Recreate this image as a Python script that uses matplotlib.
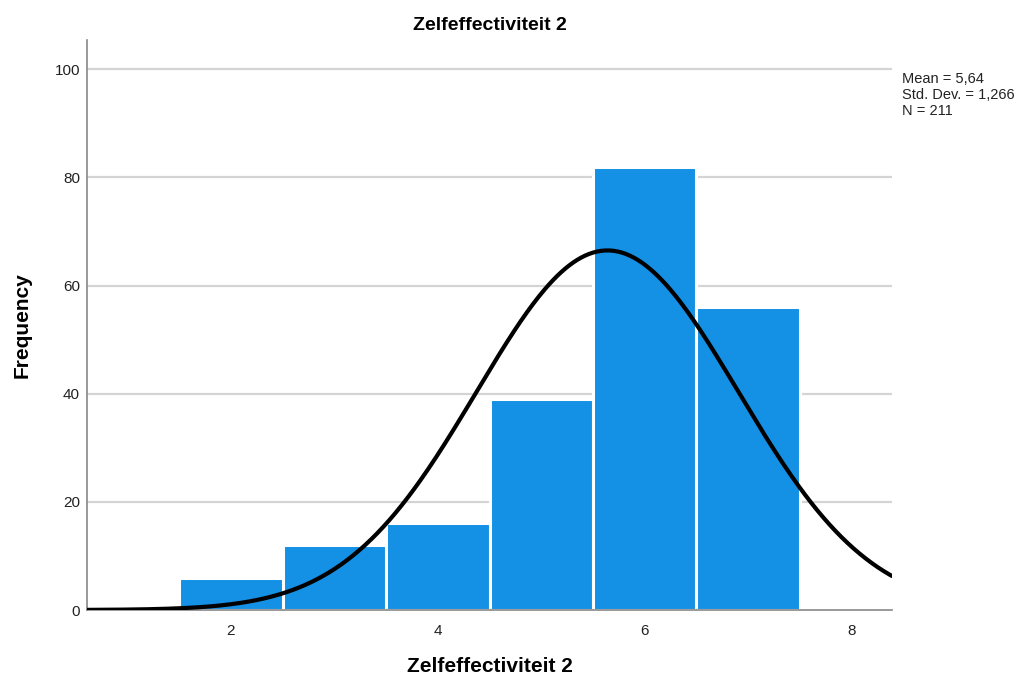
import numpy as np
import matplotlib
matplotlib.use("Agg")
import matplotlib.pyplot as plt

plt.rcParams['font.family'] = ['Liberation Sans', 'DejaVu Sans']

bin_centers = [2, 3, 4, 5, 6, 7]
counts = [6, 12, 16, 39, 82, 56]
mean = 5.64
sd = 1.266
n = 211
bin_width = 1.0

fig = plt.figure(figsize=(10.25, 6.86), dpi=100)
ax = fig.add_axes([87/1025, 76/686, (892-87)/1025, (646-76)/686])

ax.set_xlim(0.61, 8.39)
ax.set_ylim(0, 105.4)

for y in [20, 40, 60, 80, 100]:
    ax.axhline(y, color='#d4d4d4', lw=1.6, zorder=0)

ax.bar(bin_centers, counts, width=bin_width, color='#1490E5', edgecolor='white', linewidth=2.2, zorder=2)

xs = np.linspace(0.61, 8.39, 400)
ys = n * bin_width / (sd * np.sqrt(2 * np.pi)) * np.exp(-0.5 * ((xs - mean) / sd) ** 2)
ax.plot(xs, ys, color='black', lw=3, zorder=3, solid_capstyle='round')

for s in ['top', 'right']:
    ax.spines[s].set_visible(False)
for s in ['left', 'bottom']:
    ax.spines[s].set_color('#888888')
    ax.spines[s].set_linewidth(1.2)

ax.set_xticks([2, 4, 6, 8])
ax.set_yticks([0, 20, 40, 60, 80, 100])
ax.tick_params(axis='x', length=0, labelsize=11, colors='#222222', pad=10)
ax.tick_params(axis='y', length=0, labelsize=11, colors='#222222', pad=5)

ax.set_title('Zelfeffectiviteit 2', fontsize=14, fontweight='bold', pad=7)
ax.set_xlabel('Zelfeffectiviteit 2', fontsize=15, fontweight='bold')
ax.set_ylabel('Frequency', fontsize=15, fontweight='bold')
ax.xaxis.set_label_coords(0.5, (610 - 657) / 570)
ax.yaxis.set_label_coords((32 - 87) / 805, 0.5)

fig.text(902/1025, 1 - 95/686, 'Mean = 5,64\nStd. Dev. = 1,266\nN = 211',
         fontsize=10.5, va='center', ha='left', linespacing=1.2, color='#222222')

fig.savefig('out.png', dpi=100, facecolor='white')
